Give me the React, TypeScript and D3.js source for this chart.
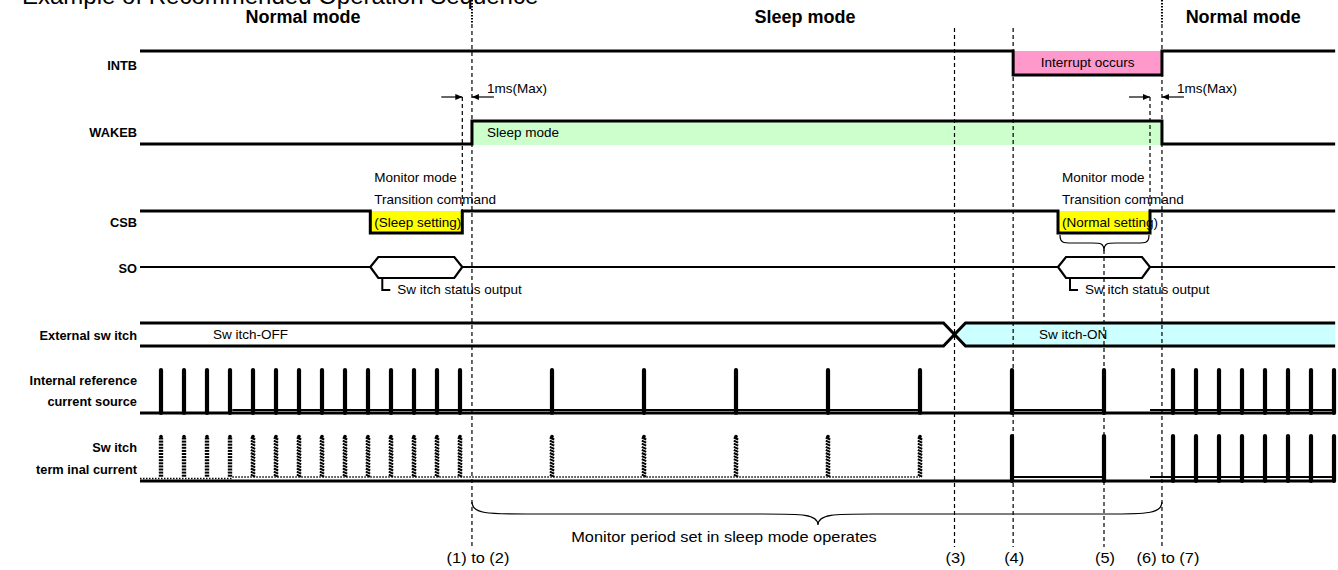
import React, { useMemo } from 'react';
import * as d3 from 'd3';

// time unit = one monitor period in normal mode
const normalPulses = [1, 2, 3, 4, 5, 6, 7, 8, 9, 10, 11, 12, 13, 14];
const sleepPulses = [18, 22, 26, 30, 34];
const wakePulses = [38, 42];
const resumePulses = [45, 46, 47, 48, 49, 50, 51, 52];

const intbLow: [number, number][] = [[38.05, 44.52]];
const wakebHigh: [number, number][] = [[14.52, 44.52]];
const csbLow: [number, number][] = [[10.1, 14.1], [40.0, 44.0]];
const soBus: [number, number][] = [[10.1, 14.1], [40.0, 44.0]];
const irefActive: [number, number][] = [[4.1, 34], [38, 42], [44, 52.05]];
const switchCross = 35.5;

const modes = [
  { label: 'Normal mode', t: 7.17 },
  { label: 'Sleep mode', t: 29.0 },
  { label: 'Normal mode', t: 48.05 },
];

const markers = [
  { label: '(1) to (2)', t: 14.52 },
  { label: '(3)', t: 35.5 },
  { label: '(4)', t: 38.05 },
  { label: '(5)', t: 42 },
  { label: '(6) to (7)', t: 44.52 },
];

const signalNames = [
  ['INTB'],
  ['WAKEB'],
  ['CSB'],
  ['SO'],
  ['External sw itch'],
  ['Internal reference', 'current source'],
  ['Sw itch', 'term inal current'],
];

const FONT = '"Liberation Sans", Arial, Helvetica, sans-serif';

const App: React.FC = () => {
  const width = 1338;
  const height = 570;
  const tStart = 0.087;
  const tEnd = 52.05;

  const x = useMemo(() => d3.scaleLinear().domain([0, 52]).range([138, 1334]), []);

  const rows = {
    intb: { hi: 51, lo: 75 },
    wakeb: { hi: 121, lo: 144 },
    csb: { hi: 211, lo: 233 },
    so: { y: 267, top: 257, bot: 278 },
    ext: { top: 323, bot: 346 },
    iref: { top: 370, line: 410, base: 413 },
    isw: { top: 436, line: 477, base: 481 },
  };
  const labelBaselines = [[70], [137], [227], [273], [340], [385, 406], [452, 474]];

  const digital = (base: number, alt: number, spans: [number, number][]) => {
    const p = d3.path();
    p.moveTo(x(tStart), base);
    spans.forEach(([a, b]) => {
      p.lineTo(x(a), base);
      p.lineTo(x(a), alt);
      p.lineTo(x(b), alt);
      p.lineTo(x(b), base);
    });
    p.lineTo(x(tEnd), base);
    return p.toString();
  };

  const soLine = () => {
    const p = d3.path();
    let cur = tStart;
    soBus.forEach(([a, b]) => {
      p.moveTo(x(cur), rows.so.y);
      p.lineTo(x(a), rows.so.y);
      cur = b;
    });
    p.moveTo(x(cur), rows.so.y);
    p.lineTo(x(tEnd), rows.so.y);
    return p.toString();
  };

  const hexagon = (a: number, b: number) => {
    const s = 8;
    const { y, top, bot } = rows.so;
    return `M${x(a)},${y}L${x(a) + s},${top}L${x(b) - s},${top}L${x(b)},${y}L${x(b) - s},${bot}L${x(a) + s},${bot}Z`;
  };

  const brace = (x0: number, x1: number, xm: number, y0: number, y1: number, y2: number, r: number) => {
    const p = d3.path();
    p.moveTo(x0, y0);
    p.bezierCurveTo(x0, y1, x0 + r * 0.3, y1, x0 + r, y1);
    p.lineTo(xm - r, y1);
    p.bezierCurveTo(xm - r * 0.3, y1, xm, y1, xm, y2);
    p.bezierCurveTo(xm, y1, xm + r * 0.3, y1, xm + r, y1);
    p.lineTo(x1 - r, y1);
    p.bezierCurveTo(x1 - r * 0.3, y1, x1, y1, x1, y0);
    return p.toString();
  };

  // dashed / hatched pulse of the switch terminal current
  const hatched = (t: number, slanted: boolean, key: string) => {
    const cx = x(t);
    const segs: JSX.Element[] = [];
    for (let y = rows.isw.top + 2.5; y < rows.isw.line; y += 3.1) {
      segs.push(
        <line
          key={`${key}-${y}`}
          x1={cx - 2.2}
          x2={cx + 2.2}
          y1={slanted ? y - 1 : y}
          y2={slanted ? y + 1 : y}
          stroke="#000"
          strokeWidth={2}
        />
      );
    }
    return (
      <g key={key}>
        <circle cx={cx} cy={rows.isw.top + 0.5} r={1.8} fill="#000" />
        {segs}
      </g>
    );
  };

  const dashed = [
    { t: markers[0].t, y0: 0, y1: 547, dotted: true },
    { t: csbLow[0][1], y0: 97, y1: 211 },
    { t: markers[1].t, y0: 28, y1: 547 },
    { t: markers[2].t, y0: 28, y1: 547 },
    { t: markers[3].t, y0: 250, y1: 547 },
    { t: csbLow[1][1], y0: 97, y1: 211 },
    { t: markers[4].t, y0: 0, y1: 547, dotted: true },
  ];

  const crossL = x(switchCross) - 11;
  const crossR = x(switchCross) + 11;
  const dottedPulses = [...normalPulses, ...sleepPulses];
  const solidPulses = [...wakePulses, ...resumePulses];
  const allIrefPulses = [...normalPulses, ...sleepPulses, ...wakePulses, ...resumePulses];

  const txt = { fontFamily: FONT, fill: '#000' } as const;

  return (
    <svg
      width={width}
      height={height}
      viewBox={`0 0 ${width} ${height}`}
      style={{ position: 'absolute', left: 0, top: 0, background: '#fff' }}
    >
      <defs>
        <marker id="arr" viewBox="0 0 7 6" refX={7} refY={3} markerWidth={7} markerHeight={6} markerUnits="userSpaceOnUse" orient="auto">
          <path d="M0,0L7,3L0,6Z" fill="#000" />
        </marker>
      </defs>

      <text x={22} y={4} fontSize={24} {...txt}>Example of Recommended Operation Sequence</text>

      {modes.map((m, i) => (
        <text key={i} x={x(m.t)} y={23} fontSize={18} fontWeight="bold" textAnchor="middle" {...txt}>{m.label}</text>
      ))}

      {/* fills */}
      {intbLow.map(([a, b], i) => (
        <rect key={`pi${i}`} x={x(a)} y={rows.intb.hi} width={x(b) - x(a)} height={rows.intb.lo - rows.intb.hi} fill="#ff99cc" />
      ))}
      {wakebHigh.map(([a, b], i) => (
        <rect key={`gw${i}`} x={x(a)} y={rows.wakeb.hi} width={x(b) - x(a)} height={rows.wakeb.lo - rows.wakeb.hi + 1} fill="#ccffcc" />
      ))}
      {csbLow.map(([a, b], i) => (
        <rect key={`yc${i}`} x={x(a)} y={rows.csb.hi} width={x(b) - x(a)} height={rows.csb.lo - rows.csb.hi} fill="#ffff00" />
      ))}
      <path
        d={`M${x(switchCross)},${(rows.ext.top + rows.ext.bot) / 2}L${crossR},${rows.ext.top}L${x(tEnd)},${rows.ext.top}L${x(tEnd)},${rows.ext.bot}L${crossR},${rows.ext.bot}Z`}
        fill="#ccffff"
      />

      {/* dashed timing lines */}
      {dashed.map((d, i) => (
        <g key={`d${i}`}>
          <line x1={x(d.t)} x2={x(d.t)} y1={d.dotted ? 24 : d.y0} y2={d.y1} stroke="#000" strokeWidth={1.2} strokeDasharray="4 3" />
          {d.dotted && (
            <line x1={x(d.t)} x2={x(d.t)} y1={0} y2={24} stroke="#000" strokeWidth={2} strokeDasharray="1.5 1.5" />
          )}
        </g>
      ))}

      {/* signals */}
      <path d={digital(rows.intb.hi, rows.intb.lo, intbLow)} fill="none" stroke="#000" strokeWidth={3} />
      <path d={digital(rows.wakeb.lo, rows.wakeb.hi, wakebHigh)} fill="none" stroke="#000" strokeWidth={3} />
      <path d={digital(rows.csb.hi, rows.csb.lo, csbLow)} fill="none" stroke="#000" strokeWidth={3} />
      <path d={soLine()} fill="none" stroke="#000" strokeWidth={2} />
      {soBus.map(([a, b], i) => (
        <path key={`h${i}`} d={hexagon(a, b)} fill="none" stroke="#000" strokeWidth={2.2} />
      ))}
      <path
        d={`M${x(tStart)},${rows.ext.top}L${crossL},${rows.ext.top}L${crossR},${rows.ext.bot}L${x(tEnd)},${rows.ext.bot}`}
        fill="none" stroke="#000" strokeWidth={3}
      />
      <path
        d={`M${x(tStart)},${rows.ext.bot}L${crossL},${rows.ext.bot}L${crossR},${rows.ext.top}L${x(tEnd)},${rows.ext.top}`}
        fill="none" stroke="#000" strokeWidth={3}
      />

      {/* internal reference current source */}
      <line x1={x(tStart)} x2={x(tEnd)} y1={rows.iref.base} y2={rows.iref.base} stroke="#000" strokeWidth={3} />
      {irefActive.map(([a, b], i) => (
        <line key={`il${i}`} x1={x(a)} x2={x(b)} y1={rows.iref.line} y2={rows.iref.line} stroke="#000" strokeWidth={2} />
      ))}
      {allIrefPulses.map((t, i) => (
        <line key={`ip${i}`} x1={x(t)} x2={x(t)} y1={rows.iref.top} y2={rows.iref.base} stroke="#000" strokeWidth={4.2} strokeLinecap="round" />
      ))}

      {/* switch terminal current */}
      <line x1={x(tStart)} x2={x(tEnd)} y1={rows.isw.base} y2={rows.isw.base} stroke="#000" strokeWidth={3} />
      <line x1={x(tStart)} x2={x(irefActive[0][0])} y1={rows.isw.base - 2.5} y2={rows.isw.base - 2.5} stroke="#000" strokeWidth={1.5} strokeDasharray="1.5 1.5" />
      <line x1={x(irefActive[0][0])} x2={x(irefActive[0][1])} y1={rows.isw.line} y2={rows.isw.line} stroke="#000" strokeWidth={1.5} strokeDasharray="1.5 1.5" />
      {irefActive.slice(1).map(([a, b], i) => (
        <line key={`sl${i}`} x1={x(a)} x2={x(b)} y1={rows.isw.line} y2={rows.isw.line} stroke="#000" strokeWidth={2} />
      ))}
      {dottedPulses.map((t, i) => hatched(t, t > 4, `hp${i}`))}
      {solidPulses.map((t, i) => (
        <line key={`sp${i}`} x1={x(t)} x2={x(t)} y1={rows.isw.top} y2={rows.isw.base} stroke="#000" strokeWidth={4.2} strokeLinecap="round" />
      ))}

      {/* signal names */}
      {signalNames.map((lines, i) =>
        lines.map((s, j) => (
          <text key={`n${i}-${j}`} x={137} y={labelBaselines[i][j]} fontSize={12.8} fontWeight="bold" textAnchor="end" {...txt}>{s}</text>
        ))
      )}

      {/* annotations */}
      <text x={(x(intbLow[0][0]) + x(intbLow[0][1])) / 2} y={67} fontSize={13.5} textAnchor="middle" {...txt}>Interrupt occurs</text>
      <text x={x(wakebHigh[0][0]) + 15} y={137} fontSize={13.5} {...txt}>Sleep mode</text>

      {[0, 1].map(i => {
        const a = csbLow[i][1];
        const b = markers[i === 0 ? 0 : 4].t;
        return (
          <g key={`ms${i}`}>
            <line x1={x(a) - 21} x2={x(a)} y1={97} y2={97} stroke="#000" strokeWidth={1.2} markerEnd="url(#arr)" />
            <line x1={x(b) + 22} x2={x(b)} y1={97} y2={97} stroke="#000" strokeWidth={1.2} markerEnd="url(#arr)" />
            <text x={x(b) + 15} y={93} fontSize={13.5} {...txt}>1ms(Max)</text>
          </g>
        );
      })}

      {csbLow.map(([a], i) => (
        <g key={`ct${i}`}>
          <text x={x(a) + 4} y={182} fontSize={13.5} {...txt}>Monitor mode</text>
          <text x={x(a) + 4} y={204} fontSize={13.5} {...txt}>Transition command</text>
          <text x={x(a) + 4} y={227} fontSize={13.5} {...txt}>{i === 0 ? '(Sleep setting)' : '(Normal setting)'}</text>
        </g>
      ))}

      <path d={brace(x(csbLow[1][0]) + 2, x(csbLow[1][1]) - 1, x(markers[3].t), 235, 243, 251, 12)} fill="none" stroke="#000" strokeWidth={1.2} />

      {soBus.map(([a], i) => (
        <g key={`so${i}`}>
          <path d={`M${x(a) + 12},${rows.so.bot}L${x(a) + 12},${rows.so.bot + 12}L${x(a) + 20},${rows.so.bot + 12}`} fill="none" stroke="#000" strokeWidth={2} />
          <text x={x(a) + 27} y={294} fontSize={13.5} {...txt}>Sw itch status output</text>
        </g>
      ))}

      <text x={213} y={339} fontSize={13.5} {...txt}>Sw itch-OFF</text>
      <text x={1039} y={339} fontSize={13.5} {...txt}>Sw itch-ON</text>

      <path d={brace(x(markers[0].t), x(markers[4].t), 818, 502, 514, 525, 55)} fill="none" stroke="#000" strokeWidth={1.2} />
      <text transform={`translate(724,542) scale(1.17,1)`} fontSize={14} textAnchor="middle" {...txt}>Monitor period set in sleep mode operates</text>

      {markers.map((m, i) => (
        <text
          key={`m${i}`}
          transform={`translate(${x(m.t) + (m.label.length > 4 ? 6 : 1)},563) scale(1.17,1)`}
          fontSize={14}
          textAnchor="middle"
          {...txt}
        >
          {m.label}
        </text>
      ))}
    </svg>
  );
};

export default App;
